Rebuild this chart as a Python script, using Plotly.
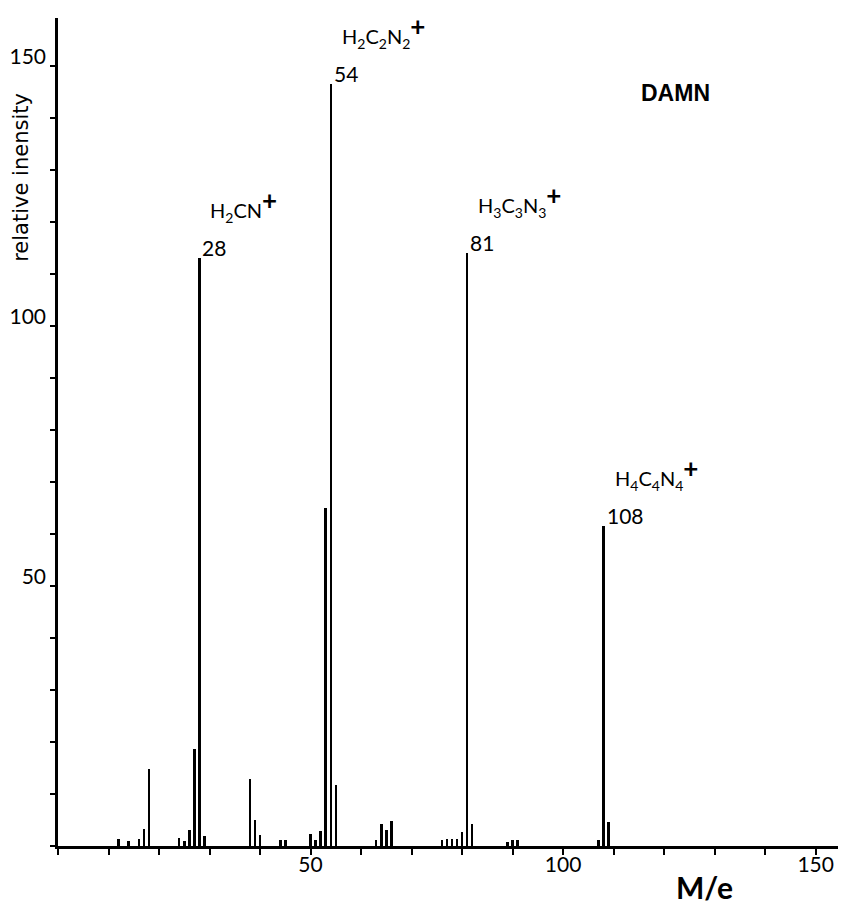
import plotly.graph_objects as go

# m/e values and relative intensities
mz = [12, 14, 16, 17, 18, 24, 25, 26, 27, 28, 29, 38, 39, 40, 44, 45,
      50, 51, 52, 53, 54, 55, 63, 64, 65, 66, 76, 77, 78, 79, 80, 81, 82,
      89, 90, 91, 107, 108, 109]
intensity = [1.4, 1.0, 1.3, 3.2, 14.9, 1.5, 1.0, 3.0, 18.6, 113, 2.0, 12.8, 5.0, 2.2, 1.2, 1.2,
             2.3, 1.2, 2.9, 65, 146.5, 11.8, 1.2, 4.3, 3.1, 4.9, 1.1, 1.3, 1.3, 1.3, 2.6, 114, 4.2,
             0.8, 1.2, 1.2, 1.2, 61.5, 4.6]

# labelled peaks
label_mz = [28, 54, 81, 108]
label_num = ["28", "54", "81", "108"]
PLUS = "<sup><b><span style='font-size:26px'>+</span></b></sup>"
label_formula = [
    "H<sub>2</sub>CN" + PLUS,
    "H<sub>2</sub>C<sub>2</sub>N<sub>2</sub>" + PLUS,
    "H<sub>3</sub>C<sub>3</sub>N<sub>3</sub>" + PLUS,
    "H<sub>4</sub>C<sub>4</sub>N<sub>4</sub>" + PLUS,
]

x_ticks = list(range(0, 160, 10))
x_ticktext = [str(v) if v in (50, 100, 150) else "" for v in x_ticks]
y_ticks = list(range(0, 160, 10))
y_ticktext = [str(v) if v in (50, 100, 150) else "" for v in y_ticks]

FONT = "Lato, 'Open Sans', sans-serif"
WIDE = "'DejaVu Sans', Verdana, sans-serif"

fig = go.Figure()
fig.add_trace(go.Bar(x=mz, y=intensity, width=0.5,
                     marker=dict(color="black", line=dict(width=0)),
                     showlegend=False, hoverinfo="x+y"))

height_of = dict(zip(mz, intensity))
annotations = []
for m, num, form in zip(label_mz, label_num, label_formula):
    h = height_of[m]
    annotations.append(dict(x=m, y=h, xref="x", yref="y", text=num, showarrow=False,
                            xanchor="left", yanchor="bottom", xshift=1, yshift=-4,
                            font=dict(size=21, color="black", family=FONT)))
    annotations.append(dict(x=m, y=h, xref="x", yref="y", text=form, showarrow=False,
                            xanchor="left", yanchor="bottom", xshift=9, yshift=30,
                            font=dict(size=20, color="black", family=FONT)))

annotations.append(dict(x=0.783, y=0.91, xref="paper", yref="paper", text="<b>DAMN</b>",
                        showarrow=False, xanchor="center", yanchor="middle",
                        font=dict(size=23, color="black", family="Liberation Sans, Arial, sans-serif")))
annotations.append(dict(x=0, y=0.807, xref="paper", yref="paper", text="relative inensity",
                        textangle=-90, showarrow=False, xanchor="center", yanchor="middle",
                        xshift=-37, font=dict(size=21, color="black", family=WIDE)))
annotations.append(dict(x=0.82, y=0, xref="paper", yref="paper", text="<b>M/e</b>",
                        showarrow=False, xanchor="center", yanchor="middle", yshift=-41,
                        font=dict(size=30, color="black", family=FONT)))

# the page adds an 8px body margin, so the figure is 8px smaller than the window
fig.update_layout(
    width=838, height=900,
    margin=dict(l=50, r=0, t=10, b=62),
    paper_bgcolor="white", plot_bgcolor="white",
    bargap=0,
    annotations=annotations,
    xaxis=dict(range=[0, 156], showgrid=False, zeroline=False, showline=True,
               linecolor="black", linewidth=2.5, ticks="outside", ticklen=6,
               tickwidth=2, tickcolor="black", tickvals=x_ticks, ticktext=x_ticktext,
               ticklabelstandoff=-8,
               tickfont=dict(size=21, color="black", family=FONT)),
    yaxis=dict(range=[0, 159.2], showgrid=False, zeroline=False, showline=True,
               linecolor="black", linewidth=2.5, ticks="outside", ticklen=5,
               tickwidth=2, tickcolor="black", tickvals=y_ticks, ticktext=y_ticktext,
               ticklabelshift=-9,
               tickfont=dict(size=21, color="black", family=FONT)),
)

fig.write_html("out.html")
